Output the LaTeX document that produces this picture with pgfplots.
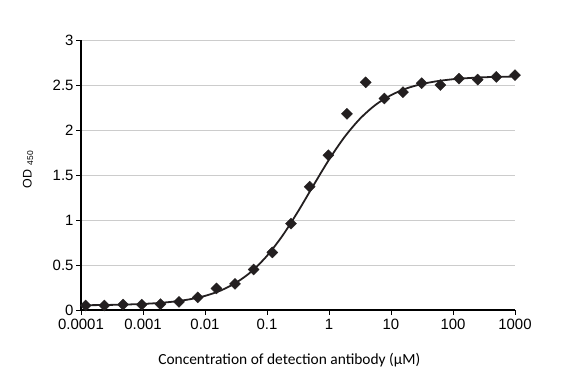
\documentclass[border=0pt]{standalone}
\usepackage{fontspec}
\setmainfont{Liberation Sans}
\newfontfamily\calfont{Carlito}
\usepackage{pgfplots}
\pgfplotsset{compat=1.18}
\definecolor{pt}{HTML}{231F20}
\begin{document}
\begin{tikzpicture}
\useasboundingbox (0,0) rectangle (582bp,382bp);
\begin{axis}[
  at={(81bp,72bp)}, anchor=south west,
  scale only axis, width=434bp, height=270bp,
  xmode=log, log basis x=10,
  xmin=0.0001, xmax=1000, ymin=0, ymax=3,
  xtick={0.0001,0.001,0.01,0.1,1,10,100,1000},
  xticklabels={0.0001,0.001,0.01,0.1,1,10,100,1000},
  ytick={0,0.5,1,1.5,2,2.5,3},
  yticklabels={0,0.5,1,1.5,2,2.5,3},
  axis x line*=bottom, axis y line*=left,
  axis line style={line width=1.1pt, -},
  tick style={black, line width=0.9pt},
  tick align=outside, major tick length=5bp,
  minor tick num=0, xminorticks=false,
  ymajorgrids, grid style={gray!40, line width=1pt},
  tick label style={font=\fontsize{15}{17}\selectfont},
  xticklabel style={yshift=-1bp},
  yticklabel style={xshift=1bp},
  /pgf/number format/assume math mode=true,
  xlabel={\calfont Concentration of detection antibody (μM)},
  xlabel style={at={(axis description cs:0.48,-0.185)}, anchor=center, font=\fontsize{15.5}{17}\selectfont},
  ylabel={OD\,{\fontsize{8.5}{9}\selectfont\raisebox{-1.5bp}{ 450}}},
  ylabel style={at={(axis description cs:-0.122,0.52)}, anchor=center, rotate=0, font=\fontsize{12.5}{14}\selectfont},
  clip=false,
]
\addplot[pt, line width=1.8pt, smooth] coordinates {
(0.0001,0.0528) (0.000178,0.0544) (0.000316,0.0570) (0.000562,0.0611)
(0.001,0.0676) (0.00178,0.0777) (0.00316,0.0937) (0.00562,0.1185)
(0.01,0.1567) (0.0178,0.2156) (0.0316,0.3025) (0.0562,0.428)
(0.1,0.602) (0.178,0.826) (0.316,1.094) (0.562,1.385)
(1,1.670) (1.78,1.922) (3.16,2.125) (5.62,2.279)
(10,2.387) (17.8,2.462) (31.6,2.511) (56.2,2.543)
(100,2.564) (178,2.577) (316,2.586) (562,2.591) (1000,2.594)
};
\addplot[only marks, mark=square*, mark size=3.9bp, pt, mark options={fill=pt, draw=pt, rotate=45}] coordinates {
(0.000119,0.05) (0.000238,0.05) (0.000477,0.06) (0.000954,0.06)
(0.00191,0.065) (0.00381,0.09) (0.00763,0.14) (0.0153,0.24)
(0.0305,0.29) (0.061,0.45) (0.122,0.64) (0.244,0.96)
(0.488,1.37) (0.977,1.72) (1.95,2.18) (3.91,2.53)
(7.81,2.35) (15.6,2.42) (31.25,2.52) (62.5,2.50)
(125,2.57) (250,2.56) (500,2.59) (1000,2.61)
};
\end{axis}
\end{tikzpicture}
\end{document}
